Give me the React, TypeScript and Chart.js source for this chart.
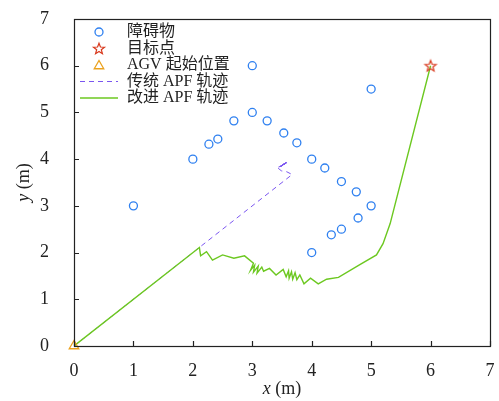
import React, { useEffect, useRef } from 'react';
import { Chart, registerables } from 'chart.js';
Chart.register(...registerables);

const obstacleX = [1, 2, 2.27, 2.42, 2.69, 3, 3, 3.25, 3.53, 3.75, 4, 4.22, 4.5, 4.75, 5, 4.78, 4.5, 4.33, 4, 5];
const obstacleY = [3, 4, 4.32, 4.43, 4.82, 5, 6, 4.82, 4.56, 4.35, 4, 3.81, 3.52, 3.3, 3, 2.74, 2.5, 2.38, 2, 5.5];
const goalX = [6];
const goalY = [6];
const startX = [0];
const startY = [0];
const apfX = [0, 3.67, 3.58, 3.49, 3.43, 3.5, 3.44, 3.52, 3.46, 3.55, 3.48, 3.57, 3.5, 3.59, 3.52, 3.6, 3.54, 3.59, 3.45, 3.56, 3.47, 3.58];
const apfY = [0, 3.67, 3.73, 3.75, 3.81, 3.86, 3.83, 3.88, 3.84, 3.9, 3.86, 3.92, 3.87, 3.94, 3.89, 3.94, 3.9, 3.93, 3.83, 3.91, 3.84, 3.92];
const improvedX = [0, 2.11, 2.13, 2.23, 2.33, 2.5, 2.69, 2.87, 3.02, 2.97, 3.04, 3.02, 3.1, 3.08, 3.16, 3.19, 3.29, 3.4, 3.52, 3.57, 3.61, 3.62, 3.66, 3.68, 3.72, 3.75, 3.8, 3.87, 3.98, 4.11, 4.25, 4.45, 4.81, 5.09, 5.2, 5.32, 6.0];
const improvedY = [0, 2.11, 1.93, 2.02, 1.84, 1.95, 1.88, 1.93, 1.77, 1.62, 1.73, 1.58, 1.71, 1.56, 1.69, 1.6, 1.66, 1.52, 1.64, 1.48, 1.61, 1.45, 1.59, 1.43, 1.57, 1.42, 1.52, 1.33, 1.45, 1.33, 1.43, 1.47, 1.74, 1.95, 2.19, 2.62, 6.0];
const tickValues = [0, 1, 2, 3, 4, 5, 6, 7];
const legendLabels = ['障碍物', '目标点', 'AGV 起始位置', '传统 APF 轨迹', '改进 APF 轨迹'];
const xTitle = ['x', ' (m)'];
const yTitle = ['y', ' (m)'];

const BLUE = '#2f80f0';
const RED = '#d8381c';
const ORANGE = '#eba21e';
const PURPLE = '#7a55f0';
const GREEN = '#6cc820';
const AXIS = '#222222';
const SERIF = "'Liberation Serif', 'Times New Roman', serif";
const LEGEND_FONT = "16px 'Liberation Serif', 'Noto Sans CJK SC', serif";

function zip(xs: number[], ys: number[]) {
  return xs.map((x, i) => ({ x, y: ys[i] }));
}

function drawStar(ctx: CanvasRenderingContext2D, cx: number, cy: number, R: number) {
  const r = R * 0.42;
  ctx.beginPath();
  for (let i = 0; i < 10; i++) {
    const rad = i % 2 === 0 ? R : r;
    const a = -Math.PI / 2 + (i * Math.PI) / 5;
    const px = cx + rad * Math.cos(a);
    const py = cy + rad * Math.sin(a);
    if (i === 0) ctx.moveTo(px, py);
    else ctx.lineTo(px, py);
  }
  ctx.closePath();
  ctx.strokeStyle = RED;
  ctx.lineWidth = 1.2;
  ctx.stroke();
}

function makeStarCanvas() {
  const c = document.createElement('canvas');
  c.width = 16;
  c.height = 16;
  const ctx = c.getContext('2d')!;
  drawStar(ctx, 8, 8.5, 5.8);
  return c;
}

function drawTriangle(ctx: CanvasRenderingContext2D, cx: number, cy: number, r: number) {
  const h = r * 1.5;
  const w = r * Math.sqrt(3);
  ctx.beginPath();
  ctx.moveTo(cx, cy - h * 2 / 3);
  ctx.lineTo(cx + w / 2, cy + h / 3);
  ctx.lineTo(cx - w / 2, cy + h / 3);
  ctx.closePath();
  ctx.strokeStyle = ORANGE;
  ctx.lineWidth = 1.3;
  ctx.stroke();
}

const framePlugin = {
  id: 'frame',
  afterDraw(chart: any) {
    const ctx = chart.ctx as CanvasRenderingContext2D;
    const { left, right, top, bottom } = chart.chartArea;
    const xs = chart.scales.x;
    const ys = chart.scales.y;
    ctx.save();
    ctx.strokeStyle = AXIS;
    ctx.lineWidth = 1.2;
    ctx.strokeRect(Math.round(left) + 0.5, Math.round(top) + 0.5, Math.round(right - left), Math.round(bottom - top));
    ctx.beginPath();
    tickValues.forEach((v) => {
      const px = Math.round(xs.getPixelForValue(v)) + 0.5;
      ctx.moveTo(px, bottom);
      ctx.lineTo(px, bottom - 5);
      const py = Math.round(ys.getPixelForValue(v)) + 0.5;
      ctx.moveTo(left, py);
      ctx.lineTo(left + 5, py);
    });
    ctx.stroke();

    // axis titles
    ctx.fillStyle = AXIS;
    ctx.textBaseline = 'middle';
    const italic = `italic 18px ${SERIF}`;
    const normal = `18px ${SERIF}`;
    ctx.font = italic;
    const w1 = ctx.measureText(xTitle[0]).width;
    ctx.font = normal;
    const w2 = ctx.measureText(xTitle[1]).width;
    const cx = (left + right) / 2;
    let sx = cx - (w1 + w2) / 2;
    ctx.textAlign = 'left';
    ctx.font = italic;
    ctx.fillText(xTitle[0], sx, 389);
    ctx.font = normal;
    ctx.fillText(xTitle[1], sx + w1, 389);

    ctx.save();
    ctx.translate(24, (top + bottom) / 2);
    ctx.rotate(-Math.PI / 2);
    ctx.font = italic;
    const v1 = ctx.measureText(yTitle[0]).width;
    ctx.font = normal;
    const v2 = ctx.measureText(yTitle[1]).width;
    sx = -(v1 + v2) / 2;
    ctx.font = italic;
    ctx.fillText(yTitle[0], sx, 0);
    ctx.font = normal;
    ctx.fillText(yTitle[1], sx + v1, 0);
    ctx.restore();

    // legend
    const mx = left + 25;
    const lx0 = left + 6;
    const lx1 = left + 44;
    const tx = left + 53;
    const rows = [32, 48.5, 65, 81.5, 98];
    ctx.font = LEGEND_FONT;
    ctx.textAlign = 'left';
    ctx.textBaseline = 'middle';
    legendLabels.forEach((label, i) => {
      const y = rows[i];
      if (i === 0) {
        ctx.beginPath();
        ctx.arc(mx, y, 4, 0, Math.PI * 2);
        ctx.strokeStyle = BLUE;
        ctx.lineWidth = 1.3;
        ctx.stroke();
      } else if (i === 1) {
        drawStar(ctx, mx, y + 0.5, 5.8);
      } else if (i === 2) {
        drawTriangle(ctx, mx, y + 1, 5.5);
      } else if (i === 3) {
        ctx.beginPath();
        ctx.setLineDash([5, 4]);
        ctx.moveTo(lx0, y);
        ctx.lineTo(lx1, y);
        ctx.strokeStyle = PURPLE;
        ctx.lineWidth = 1;
        ctx.stroke();
        ctx.setLineDash([]);
      } else {
        ctx.beginPath();
        ctx.moveTo(lx0, y);
        ctx.lineTo(lx1, y);
        ctx.strokeStyle = GREEN;
        ctx.lineWidth = 1.4;
        ctx.stroke();
      }
      ctx.fillStyle = AXIS;
      ctx.fillText(label, tx, y);
    });
    ctx.restore();
  },
};

export default function App() {
  const ref = useRef<HTMLCanvasElement | null>(null);
  useEffect(() => {
    if (!ref.current) return;
    const star = makeStarCanvas();
    const tickFont = { family: SERIF, size: 18 };
    const chart = new Chart(ref.current, {
      type: 'scatter',
      data: {
        datasets: [
          {
            label: legendLabels[0],
            data: zip(obstacleX, obstacleY),
            pointStyle: 'circle',
            pointRadius: 4,
            borderColor: BLUE,
            backgroundColor: 'rgba(0,0,0,0)',
            borderWidth: 1.3,
            order: 1,
          },
          {
            label: legendLabels[1],
            data: zip(goalX, goalY),
            pointStyle: star as any,
            pointRadius: 7,
            borderColor: RED,
            backgroundColor: 'rgba(0,0,0,0)',
            order: 0,
            clip: false as any,
          },
          {
            label: legendLabels[2],
            data: zip(startX, startY),
            pointStyle: 'triangle',
            pointRadius: 5.5,
            borderColor: ORANGE,
            backgroundColor: 'rgba(0,0,0,0)',
            borderWidth: 1.3,
            order: 0,
            clip: false as any,
          },
          {
            label: legendLabels[3],
            data: zip(apfX, apfY),
            showLine: true,
            pointRadius: 0,
            borderColor: PURPLE,
            borderWidth: 1,
            borderDash: [5, 4],
            order: 5,
          },
          {
            label: legendLabels[4],
            data: zip(improvedX, improvedY),
            showLine: true,
            pointRadius: 0,
            borderColor: GREEN,
            borderWidth: 1.4,
            order: 4,
          },
        ],
      },
      options: {
        animation: false,
        responsive: false,
        layout: { padding: { top: 19, right: 9, left: 0, bottom: 0 } },
        plugins: { legend: { display: false }, tooltip: { enabled: false } },
        scales: {
          x: {
            type: 'linear',
            min: 0,
            max: 7,
            afterBuildTicks: (s: any) => { s.ticks = tickValues.map((v) => ({ value: v })); },
            afterFit: (s: any) => { s.height = 55; s.paddingLeft = 0; s.paddingRight = 0; },
            grid: { display: false },
            border: { display: false },
            ticks: { font: tickFont, color: AXIS, padding: 6, maxRotation: 0 },
          },
          y: {
            type: 'linear',
            min: 0,
            max: 7,
            afterBuildTicks: (s: any) => { s.ticks = tickValues.map((v) => ({ value: v })); },
            afterFit: (s: any) => { s.width = 74; s.paddingTop = 0; s.paddingBottom = 0; },
            grid: { display: false },
            border: { display: false },
            ticks: { font: tickFont, color: AXIS, padding: 17 },
          },
        },
      },
      plugins: [framePlugin],
    });
    return () => chart.destroy();
  }, []);
  return (
    <div style={{ position: 'fixed', left: 0, top: 0, width: 499, height: 401, background: '#fff' }}>
      <canvas ref={ref} width={499} height={401} />
    </div>
  );
}
